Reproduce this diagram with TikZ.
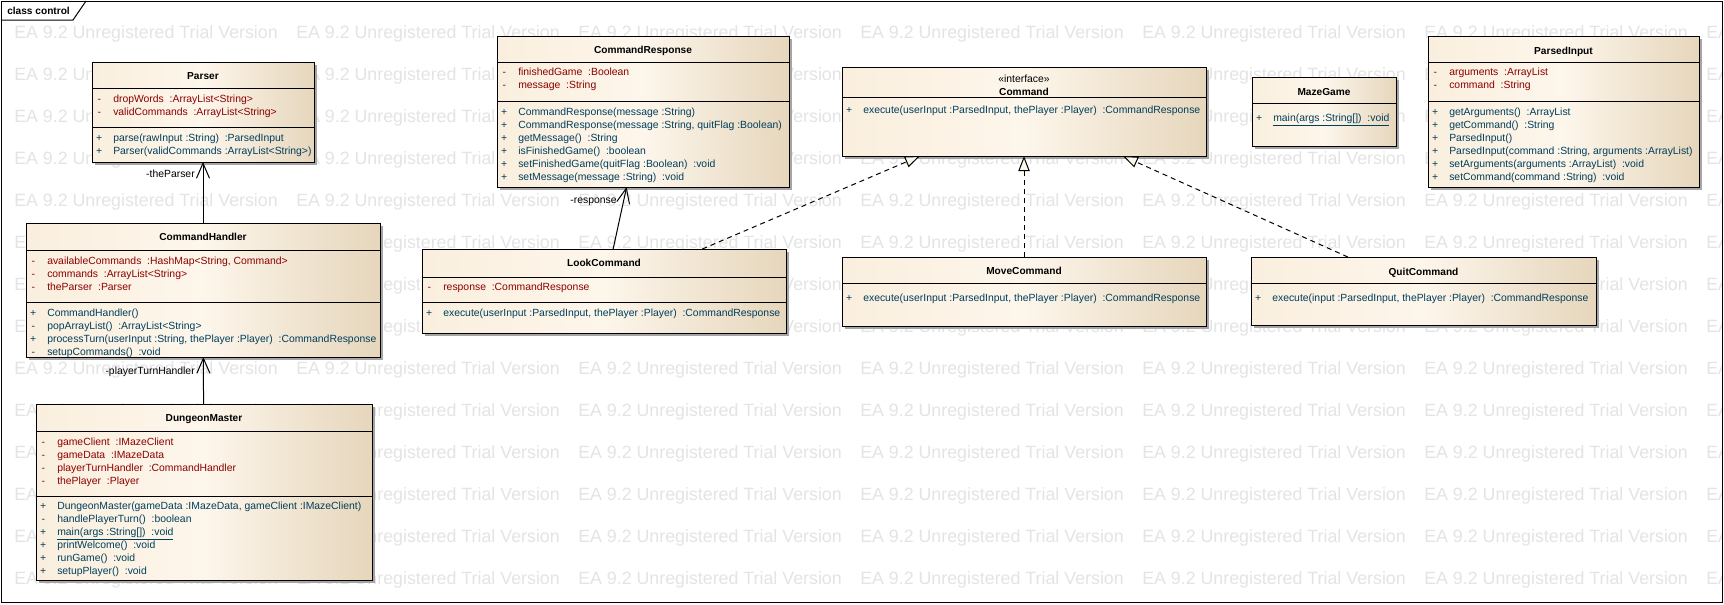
\documentclass[tikz,border=0pt]{standalone}
\usepackage{fontspec}
\setmainfont{Liberation Sans}
\usetikzlibrary{arrows.meta,calc}
\definecolor{cL}{RGB}{250,239,222}
\definecolor{cM}{RGB}{253,246,235}
\definecolor{cR}{RGB}{230,214,188}
\definecolor{attrc}{RGB}{140,0,0}
\definecolor{methc}{RGB}{0,62,92}
\definecolor{wmark}{RGB}{228,228,228}
\definecolor{shadowc}{RGB}{165,165,165}
\newcommand\umlvis[1]{\makebox[10.5pt][c]{#1}\hspace{5.25pt}}
\newcommand\umlclass[5]{%
  \fill[boxshadow] ({#2+3},{#3+3}) rectangle ({#4+3},{#5+3});
  \node[classbox, anchor=north west, minimum width={(#4-#2)*0.75pt}, minimum height={(#5-#3)*0.75pt}] (#1) at (#2,#3) {};%
}
\newcommand\umlsep[2]{\draw[sepline] ($(#1.north west)+(0,#2)$) -- ($(#1.north east)+(0,#2)$);}
\begin{document}
\begin{tikzpicture}[x=0.75pt, y=-0.75pt, font=\fontsize{7.8}{9.75}\selectfont,
  classbox/.style={draw=black, line width=0.75pt, left color=cL, right color=cR, middle color=cM, inner sep=0pt, outer sep=0pt},
  boxshadow/.style={fill=shadowc},
  sepline/.style={draw=black, line width=0.75pt},
  frameline/.style={draw=black, line width=0.75pt},
  cname/.style={font=\fontsize{7.6}{9.75}\selectfont\bfseries, inner sep=0pt, text height=5.5pt, text depth=0pt},
  stereo/.style={inner sep=0pt, text height=5.6pt, text depth=0pt},
  attrs/.style={inner sep=0pt, anchor=base west, text=attrc},
  meths/.style={inner sep=0pt, anchor=base west, text=methc},
  lbl/.style={inner sep=0pt, anchor=east, text height=5.6pt, text depth=0pt},
  assoc/.style={draw=black, line width=0.75pt, -{Straight Barb[length=11.25pt,width=9.75pt]}},
  realize/.style={draw=black, line width=0.75pt, dash pattern=on 3.75pt off 3pt, -{Triangle[length=11.25pt,width=8.5pt,fill=cM]}},
  wm/.style={text=wmark, font=\fontsize{13.35}{16}\selectfont, inner sep=0pt, anchor=west, text height=9.6pt, text depth=0pt}
]
\useasboundingbox (0,0) rectangle (1724,604);
\fill[white] (0,0) rectangle (1724,604);
% watermark
\begin{scope}
\clip (1,1) rectangle (1722,602);
\foreach \r in {0,...,13} {
  \foreach \c in {0,...,6} {
    \node[wm] (wm-\r-\c) at ({14+282*\c},{31.8+42*\r}) {EA 9.2 Unregistered Trial Version};
  }
}
\end{scope}
% frame
\draw[frameline] (1,1) rectangle (1722,602);
\draw[frameline] (1,20) -- (73,20) -- (86,1);
\node[cname, anchor=west] (ftitle) at (7,11) {class control};

% Parser
\umlclass{parser}{92}{62}{314}{162}
\umlsep{parser}{26}\umlsep{parser}{65}
\node[cname] (parser-n) at ($(parser.north)+(0,14)$) {Parser};
\node[attrs] (parser-a) at ($(parser.north west)+(0,40)$) {\begin{tabular}[t]{@{}l@{}}\umlvis{-}dropWords~~:ArrayList<String>\\\umlvis{-}validCommands~~:ArrayList<String>\end{tabular}};
\node[meths] (parser-m) at ($(parser.north west)+(0,79)$) {\begin{tabular}[t]{@{}l@{}}\umlvis{+}parse(rawInput :String)~~:ParsedInput\\\umlvis{+}Parser(validCommands :ArrayList<String>)\end{tabular}};

% CommandHandler
\umlclass{handler}{26}{223}{380}{357}
\umlsep{handler}{27}\umlsep{handler}{79}
\node[cname] (handler-n) at ($(handler.north)+(0,14)$) {CommandHandler};
\node[attrs] (handler-a) at ($(handler.north west)+(0,41)$) {\begin{tabular}[t]{@{}l@{}}\umlvis{-}availableCommands~~:HashMap<String, Command>\\\umlvis{-}commands~~:ArrayList<String>\\\umlvis{-}theParser~~:Parser\end{tabular}};
\node[meths] (handler-m) at ($(handler.north west)+(0,93)$) {\begin{tabular}[t]{@{}l@{}}\umlvis{+}CommandHandler()\\\umlvis{-}popArrayList()~~:ArrayList<String>\\\umlvis{+}processTurn(userInput :String, thePlayer :Player)~~:CommandResponse\\\umlvis{-}setupCommands()~~:void\end{tabular}};

% DungeonMaster
\umlclass{dm}{36}{404}{372}{580}
\umlsep{dm}{27}\umlsep{dm}{92}
\node[cname] (dm-n) at ($(dm.north)+(0,14)$) {DungeonMaster};
\node[attrs] (dm-a) at ($(dm.north west)+(0,41)$) {\begin{tabular}[t]{@{}l@{}}\umlvis{-}gameClient~~:IMazeClient\\\umlvis{-}gameData~~:IMazeData\\\umlvis{-}playerTurnHandler~~:CommandHandler\\\umlvis{-}thePlayer~~:Player\end{tabular}};
\node[meths] (dm-m) at ($(dm.north west)+(0,105)$) {\begin{tabular}[t]{@{}l@{}}\umlvis{+}DungeonMaster(gameData :IMazeData, gameClient :IMazeClient)\\\umlvis{-}handlePlayerTurn()~~:boolean\\\umlvis{+}\underline{main(args :String[])~~:void}\\\umlvis{+}printWelcome()~~:void\\\umlvis{+}runGame()~~:void\\\umlvis{+}setupPlayer()~~:void\end{tabular}};

% CommandResponse
\umlclass{cresp}{497}{36}{789}{187}
\umlsep{cresp}{26}\umlsep{cresp}{65}
\node[cname] (cresp-n) at ($(cresp.north)+(0,14)$) {CommandResponse};
\node[attrs] (cresp-a) at ($(cresp.north west)+(0,39)$) {\begin{tabular}[t]{@{}l@{}}\umlvis{-}finishedGame~~:Boolean\\\umlvis{-}message~~:String\end{tabular}};
\node[meths] (cresp-m) at ($(cresp.north west)+(0,79)$) {\begin{tabular}[t]{@{}l@{}}\umlvis{+}CommandResponse(message :String)\\\umlvis{+}CommandResponse(message :String, quitFlag :Boolean)\\\umlvis{+}getMessage()~~:String\\\umlvis{+}isFinishedGame()~~:boolean\\\umlvis{+}setFinishedGame(quitFlag :Boolean)~~:void\\\umlvis{+}setMessage(message :String)~~:void\end{tabular}};

% LookCommand
\umlclass{look}{422}{249}{786}{333}
\umlsep{look}{28}\umlsep{look}{53}
\node[cname] (look-n) at ($(look.north)+(0,14)$) {LookCommand};
\node[attrs] (look-a) at ($(look.north west)+(0,41)$) {\begin{tabular}[t]{@{}l@{}}\umlvis{-}response~~:CommandResponse\end{tabular}};
\node[meths] (look-m) at ($(look.north west)+(0,67)$) {\begin{tabular}[t]{@{}l@{}}\umlvis{+}execute(userInput :ParsedInput, thePlayer :Player)~~:CommandResponse\end{tabular}};

% Command (interface)
\umlclass{cmd}{842}{67}{1206}{156}
\umlsep{cmd}{30}
\node[stereo] (cmd-s) at ($(cmd.north)+(0,12)$) {«interface»};
\node[cname] (cmd-n) at ($(cmd.north)+(0,25)$) {Command};
\node[meths] (cmd-m) at ($(cmd.north west)+(0,46)$) {\begin{tabular}[t]{@{}l@{}}\umlvis{+}execute(userInput :ParsedInput, thePlayer :Player)~~:CommandResponse\end{tabular}};

% MoveCommand
\umlclass{move}{842}{257}{1206}{326}
\umlsep{move}{26}
\node[cname] (move-n) at ($(move.north)+(0,14)$) {MoveCommand};
\node[meths] (move-m) at ($(move.north west)+(0,44)$) {\begin{tabular}[t]{@{}l@{}}\umlvis{+}execute(userInput :ParsedInput, thePlayer :Player)~~:CommandResponse\end{tabular}};

% MazeGame
\umlclass{maze}{1252}{77}{1396}{146}
\umlsep{maze}{26}
\node[cname] (maze-n) at ($(maze.north)+(0,14.5)$) {MazeGame};
\node[meths] (maze-m) at ($(maze.north west)+(0,44)$) {\begin{tabular}[t]{@{}l@{}}\umlvis{+}\underline{main(args :String[])~~:void}\end{tabular}};

% ParsedInput
\umlclass{pinput}{1428}{36}{1699}{187}
\umlsep{pinput}{26}\umlsep{pinput}{65}
\node[cname] (pinput-n) at ($(pinput.north)+(0,14.5)$) {ParsedInput};
\node[attrs] (pinput-a) at ($(pinput.north west)+(0,39)$) {\begin{tabular}[t]{@{}l@{}}\umlvis{-}arguments~~:ArrayList\\\umlvis{-}command~~:String\end{tabular}};
\node[meths] (pinput-m) at ($(pinput.north west)+(0,79)$) {\begin{tabular}[t]{@{}l@{}}\umlvis{+}getArguments()~~:ArrayList\\\umlvis{+}getCommand()~~:String\\\umlvis{+}ParsedInput()\\\umlvis{+}ParsedInput(command :String, arguments :ArrayList)\\\umlvis{+}setArguments(arguments :ArrayList)~~:void\\\umlvis{+}setCommand(command :String)~~:void\end{tabular}};

% QuitCommand
\umlclass{quit}{1251}{257}{1596}{325}
\umlsep{quit}{26}
\node[cname] (quit-n) at ($(quit.north)+(0,14.5)$) {QuitCommand};
\node[meths] (quit-m) at ($(quit.north west)+(0,44)$) {\begin{tabular}[t]{@{}l@{}}\umlvis{+}execute(input :ParsedInput, thePlayer :Player)~~:CommandResponse\end{tabular}};

% connectors
\draw[assoc] (handler) -- (parser);
\draw[assoc] (dm) -- (handler);
\draw[assoc] (look) -- (cresp);
\draw[realize] (look) -- (cmd);
\draw[realize] (move) -- (cmd);
\draw[realize] (quit) -- (cmd);

% role labels
\node[lbl] (l-parser) at ($(parser.south)+(-8,12)$) {-theParser};
\node[lbl] (l-handler) at ($(handler.south)+(-8,14)$) {-playerTurnHandler};
\node[lbl] (l-resp) at ($(cresp.south west)+(120,13)$) {-response};
\end{tikzpicture}
\end{document}
